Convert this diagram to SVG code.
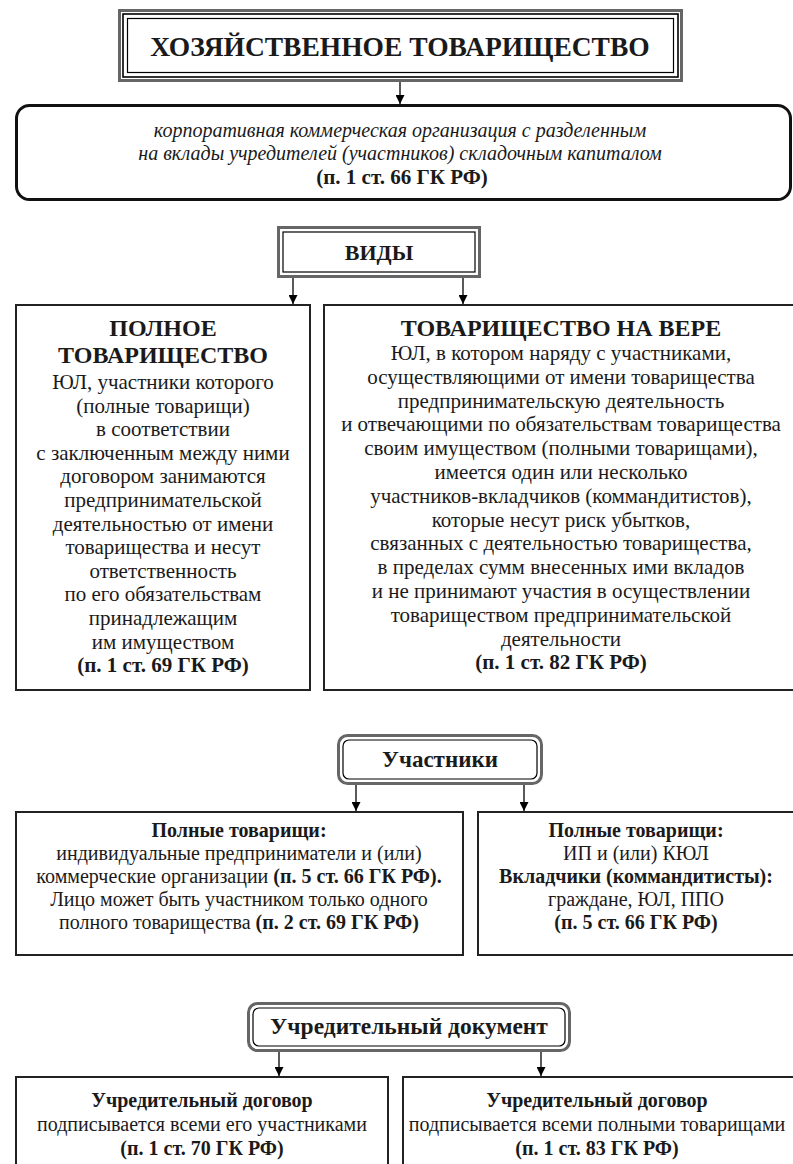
<svg xmlns="http://www.w3.org/2000/svg" width="793" height="1164" viewBox="0 0 793 1164" font-family="'Liberation Serif', 'Times New Roman', 'DejaVu Serif', serif">
<style>
text{fill:#1a1a1a;text-anchor:middle}
.b{font-weight:bold}
.t{font-size:21px}
.h{font-size:24px;font-weight:bold}
.p{font-size:20px}
.i{font-size:20px;font-style:italic}
.box{fill:#fff;stroke:#222;stroke-width:2}
.outer{fill:#fff;stroke:#666;stroke-width:3}
.mid{fill:none;stroke:#000;stroke-width:1.6}
.inner{fill:none;stroke:#000;stroke-width:1.2}
.conn{stroke:#000;stroke-width:1.3;fill:none}
</style>
<defs>
<marker id="arr" viewBox="0 0 10 10" refX="10" refY="5" markerWidth="9" markerHeight="9" markerUnits="userSpaceOnUse" orient="auto">
<path d="M0,0 L10,5 L0,10 z" fill="#000"/>
</marker>
</defs>
<rect width="793" height="1164" fill="#fff"/>

<g id="connectors">
<line class="conn" x1="400" y1="82" x2="400" y2="104" marker-end="url(#arr)"/>
<line class="conn" x1="293" y1="278" x2="293" y2="304" marker-end="url(#arr)"/>
<line class="conn" x1="463" y1="278" x2="463" y2="304" marker-end="url(#arr)"/>
<line class="conn" x1="356" y1="784" x2="356" y2="811" marker-end="url(#arr)"/>
<line class="conn" x1="524" y1="784" x2="524" y2="811" marker-end="url(#arr)"/>
<line class="conn" x1="279" y1="1051" x2="279" y2="1076" marker-end="url(#arr)"/>
<line class="conn" x1="541" y1="1051" x2="541" y2="1076" marker-end="url(#arr)"/>
</g>

<g id="title">
<rect class="outer" x="119.5" y="10.5" width="562" height="70"/>
<rect class="mid" x="123" y="14" width="555" height="63"/>
<rect class="inner" x="127.5" y="18.5" width="546" height="54"/>
<text class="b" x="400" y="56" style="font-size:27.5px">ХОЗЯЙСТВЕННОЕ ТОВАРИЩЕСТВО</text>
</g>

<g id="definition">
<rect x="16.5" y="105.5" width="774" height="94" rx="13" fill="#fff" stroke="#111" stroke-width="3"/>
<text class="i" x="400" y="137">корпоративная коммерческая организация с разделенным</text>
<text class="i" x="400" y="160">на вклады учредителей (участников) складочным капиталом</text>
<text class="t b" x="402" y="184">(п. 1 ст. 66 ГК РФ)</text>
</g>

<g id="vidy">
<rect class="outer" x="278.5" y="227.5" width="201" height="49"/>
<rect class="inner" x="283" y="232" width="192" height="40"/>
<text class="b" x="379" y="260" style="font-size:22px">ВИДЫ</text>
</g>

<g id="full">
<rect class="box" x="16" y="305" width="294" height="385"/>
<text class="h" x="163" y="336">ПОЛНОЕ</text>
<text class="h" x="163" y="363">ТОВАРИЩЕСТВО</text>
<text class="t" x="163" y="389">ЮЛ, участники которого</text>
<text class="t" x="163" y="412.6">(полные товарищи)</text>
<text class="t" x="163" y="436.2">в соответствии</text>
<text class="t" x="163" y="459.8">с заключенным между ними</text>
<text class="t" x="163" y="483.4">договором занимаются</text>
<text class="t" x="163" y="507">предпринимательской</text>
<text class="t" x="163" y="530.6">деятельностью от имени</text>
<text class="t" x="163" y="554.2">товарищества и несут</text>
<text class="t" x="163" y="577.8">ответственность</text>
<text class="t" x="163" y="601.4">по его обязательствам</text>
<text class="t" x="163" y="625">принадлежащим</text>
<text class="t" x="163" y="648.6">им имуществом</text>
<text class="t b" x="163" y="672.2">(п. 1 ст. 69 ГК РФ)</text>
</g>

<g id="limited">
<rect class="box" x="324" y="305" width="472" height="385"/>
<text class="h" x="561" y="336">ТОВАРИЩЕСТВО НА ВЕРЕ</text>
<text class="t" x="561" y="360">ЮЛ, в котором наряду с участниками,</text>
<text class="t" x="561" y="383.8">осуществляющими от имени товарищества</text>
<text class="t" x="561" y="407.6">предпринимательскую деятельность</text>
<text class="t" x="561" y="431.4">и отвечающими по обязательствам товарищества</text>
<text class="t" x="561" y="455.2">своим имуществом (полными товарищами),</text>
<text class="t" x="561" y="479">имеется один или несколько</text>
<text class="t" x="561" y="502.8">участников-вкладчиков (коммандитистов),</text>
<text class="t" x="561" y="526.6">которые несут риск убытков,</text>
<text class="t" x="561" y="550.4">связанных с деятельностью товарищества,</text>
<text class="t" x="561" y="574.2">в пределах сумм внесенных ими вкладов</text>
<text class="t" x="561" y="598">и не принимают участия в осуществлении</text>
<text class="t" x="561" y="621.8">товариществом предпринимательской</text>
<text class="t" x="561" y="645.6">деятельности</text>
<text class="t b" x="561" y="669.4">(п. 1 ст. 82 ГК РФ)</text>
</g>

<g id="participants">
<rect class="outer" x="338.5" y="735.5" width="203" height="48" rx="9"/>
<rect class="inner" x="343" y="740" width="194" height="39" rx="6"/>
<text class="b" x="440" y="767" style="font-size:23px">Участники</text>
</g>

<g id="participants-full">
<rect class="box" x="16" y="812" width="447" height="143"/>
<text class="p b" x="239" y="837">Полные товарищи:</text>
<text class="p" x="239" y="860">индивидуальные предприниматели и (или)</text>
<text class="p" x="239" y="883">коммерческие организации <tspan class="b">(п. 5 ст. 66 ГК РФ).</tspan></text>
<text class="p" x="239" y="906">Лицо может быть участником только одного</text>
<text class="p" x="239" y="929">полного товарищества <tspan class="b">(п. 2 ст. 69 ГК РФ)</tspan></text>
</g>

<g id="participants-limited">
<rect class="box" x="478" y="812" width="318" height="143"/>
<text class="p b" x="636" y="837">Полные товарищи:</text>
<text class="p" x="636" y="860">ИП и (или) КЮЛ</text>
<text class="p b" x="636" y="883">Вкладчики (коммандитисты):</text>
<text class="p" x="636" y="906">граждане, ЮЛ, ППО</text>
<text class="p b" x="636" y="929">(п. 5 ст. 66 ГК РФ)</text>
</g>

<g id="founding-doc">
<rect class="outer" x="248.5" y="1003.5" width="321" height="47" rx="9"/>
<rect class="inner" x="253" y="1008" width="312" height="38" rx="6"/>
<text class="b" x="409" y="1034" style="font-size:23.5px">Учредительный документ</text>
</g>

<g id="doc-full">
<rect class="box" x="16" y="1077" width="372" height="100"/>
<text class="p b" x="202" y="1107">Учредительный договор</text>
<text class="p" x="202" y="1131">подписывается всеми его участниками</text>
<text class="p b" x="202" y="1155">(п. 1 ст. 70 ГК РФ)</text>
</g>

<g id="doc-limited">
<rect class="box" x="403" y="1077" width="393" height="100"/>
<text class="p b" x="597" y="1107">Учредительный договор</text>
<text class="p" x="597" y="1131">подписывается всеми полными товарищами</text>
<text class="p b" x="597" y="1155">(п. 1 ст. 83 ГК РФ)</text>
</g>
</svg>
